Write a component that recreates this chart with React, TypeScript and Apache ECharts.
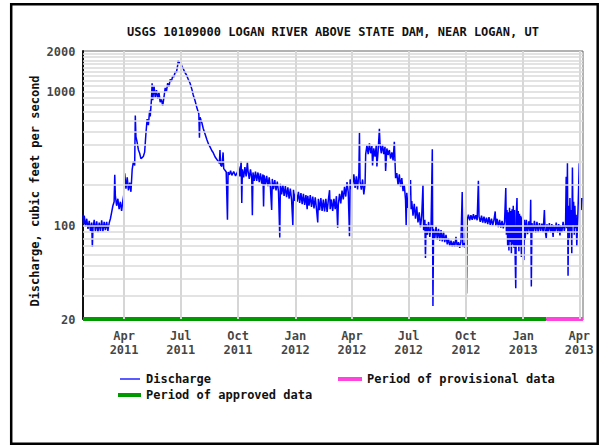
import React, { useEffect, useRef } from "react";
import * as echarts from "echarts";

const titleText = "USGS 10109000 LOGAN RIVER ABOVE STATE DAM, NEAR LOGAN, UT";
const yAxisTitle = "Discharge, cubic feet per second";
const xMin = "2011-01-25";
const xMax = "2013-04-07";
const yMin = 20;
const yMax = 2000;

const quarterTicks = [
  "2011-04-01", "2011-07-01", "2011-10-01", "2012-01-01", "2012-04-01",
  "2012-07-01", "2012-10-01", "2013-01-01", "2013-04-01",
];
const quarterLabels = [
  "Apr\n2011", "Jul\n2011", "Oct\n2011", "Jan\n2012", "Apr\n2012",
  "Jul\n2012", "Oct\n2012", "Jan\n2013", "Apr\n2013",
];
const yTickValues = [20, 100, 1000, 2000];
const yGridValues = [
  30, 40, 50, 60, 70, 80, 90, 100, 200, 300, 400, 500, 600, 700, 800, 900,
  1000, 1100, 1200, 1300, 1400, 1500, 1600, 1700, 1800, 1900,
];

const approvedPeriod: [string, number][] = [["2011-01-25", 20], ["2013-02-07", 20]];
const provisionalPeriod: [string, number][] = [["2013-02-07", 20], ["2013-04-07", 20]];

const discharge2011a: [string, number][] = [
  ["2011-01-25", 120], ["2011-01-26", 102], ["2011-01-27", 118], ["2011-01-29", 98], ["2011-01-31", 112],
  ["2011-02-02", 94], ["2011-02-04", 108], ["2011-02-06", 91], ["2011-02-08", 105], ["2011-02-09", 69],
  ["2011-02-10", 95], ["2011-02-12", 110], ["2011-02-14", 90], ["2011-02-16", 107], ["2011-02-18", 89],
  ["2011-02-20", 105], ["2011-02-22", 91], ["2011-02-24", 109], ["2011-02-26", 90], ["2011-02-28", 106],
  ["2011-03-02", 92], ["2011-03-04", 106], ["2011-03-06", 91], ["2011-03-08", 104], ["2011-03-10", 112],
  ["2011-03-12", 125], ["2011-03-14", 140], ["2011-03-16", 150], ["2011-03-17", 238], ["2011-03-18", 165],
  ["2011-03-20", 140], ["2011-03-22", 158], ["2011-03-24", 132], ["2011-03-26", 150], ["2011-03-28", 128],
  ["2011-03-30", 152], ["2011-04-01", 175], ["2011-04-02", 245], ["2011-04-04", 188], ["2011-04-06", 228],
  ["2011-04-08", 182], ["2011-04-10", 208], ["2011-04-12", 178], ["2011-04-14", 262], ["2011-04-16", 300],
  ["2011-04-18", 280], ["2011-04-19", 660], ["2011-04-20", 460], ["2011-04-22", 415], ["2011-04-24", 365],
  ["2011-04-26", 345], ["2011-04-28", 315], ["2011-04-30", 320], ["2011-05-02", 328], ["2011-05-04", 352],
];

const discharge2011b: [string, number][] = [
  ["2011-05-06", 480], ["2011-05-08", 620], ["2011-05-10", 560], ["2011-05-12", 720], ["2011-05-13", 650],
  ["2011-05-15", 880], ["2011-05-16", 1150], ["2011-05-17", 860], ["2011-05-19", 1100], ["2011-05-21", 900],
  ["2011-05-23", 1020], ["2011-05-25", 880], ["2011-05-27", 980], ["2011-05-29", 830], ["2011-05-31", 870],
  ["2011-06-02", 780], ["2011-06-04", 900], ["2011-06-06", 1060], ["2011-06-08", 1000], ["2011-06-10", 1150],
  ["2011-06-12", 1080], ["2011-06-14", 1230], ["2011-06-16", 1180], ["2011-06-18", 1300], ["2011-06-20", 1280],
  ["2011-06-22", 1400], ["2011-06-24", 1380], ["2011-06-26", 1560], ["2011-06-27", 1700], ["2011-06-29", 1610],
  ["2011-07-01", 1660], ["2011-07-03", 1520], ["2011-07-05", 1480], ["2011-07-07", 1400], ["2011-07-10", 1330],
  ["2011-07-13", 1230], ["2011-07-16", 1150], ["2011-07-19", 1030], ["2011-07-21", 940], ["2011-07-24", 850],
  ["2011-07-27", 750], ["2011-07-30", 680], ["2011-07-31", 450], ["2011-08-01", 640], ["2011-08-04", 580],
  ["2011-08-06", 530], ["2011-08-09", 480], ["2011-08-12", 435], ["2011-08-15", 400], ["2011-08-17", 385],
  ["2011-08-20", 360], ["2011-08-22", 350], ["2011-08-25", 325], ["2011-08-29", 305], ["2011-09-01", 290],
  ["2011-09-02", 365], ["2011-09-03", 282], ["2011-09-05", 275], ["2011-09-07", 350], ["2011-09-08", 265],
  ["2011-09-10", 258], ["2011-09-12", 250], ["2011-09-14", 110], ["2011-09-15", 250], ["2011-09-17", 238],
  ["2011-09-19", 256], ["2011-09-21", 236], ["2011-09-24", 252], ["2011-09-27", 234], ["2011-09-30", 250],
];

const discharge2011c: [string, number][] = [
  ["2011-10-02", 275], ["2011-10-04", 232], ["2011-10-06", 300], ["2011-10-07", 147], ["2011-10-08", 262],
  ["2011-10-10", 228], ["2011-10-12", 272], ["2011-10-14", 232], ["2011-10-16", 295], ["2011-10-17", 255],
  ["2011-10-19", 222], ["2011-10-21", 262], ["2011-10-23", 225], ["2011-10-24", 119], ["2011-10-25", 248],
  ["2011-10-27", 215], ["2011-10-29", 252], ["2011-10-31", 215], ["2011-11-02", 248], ["2011-11-04", 210],
  ["2011-11-06", 244], ["2011-11-08", 205], ["2011-11-10", 240], ["2011-11-11", 138], ["2011-11-12", 236],
  ["2011-11-14", 200], ["2011-11-16", 234], ["2011-11-18", 196], ["2011-11-20", 228], ["2011-11-22", 192],
  ["2011-11-24", 130], ["2011-11-25", 222], ["2011-11-27", 186], ["2011-11-29", 218], ["2011-12-01", 182],
  ["2011-12-03", 212], ["2011-12-05", 178], ["2011-12-07", 81], ["2011-12-08", 204], ["2011-12-10", 170],
  ["2011-12-12", 200], ["2011-12-14", 166], ["2011-12-16", 196], ["2011-12-18", 162], ["2011-12-20", 192],
  ["2011-12-22", 158], ["2011-12-24", 188], ["2011-12-26", 155], ["2011-12-28", 100], ["2011-12-29", 184],
  ["2011-12-31", 152],
];

const discharge2012a: [string, number][] = [
  ["2012-01-02", 180], ["2012-01-04", 150], ["2012-01-06", 178], ["2012-01-08", 147], ["2012-01-10", 174],
  ["2012-01-12", 144], ["2012-01-14", 172], ["2012-01-16", 142], ["2012-01-18", 168], ["2012-01-20", 132],
  ["2012-01-21", 166], ["2012-01-23", 140], ["2012-01-25", 168], ["2012-01-27", 137], ["2012-01-29", 164],
  ["2012-01-31", 134], ["2012-02-02", 162], ["2012-02-04", 132], ["2012-02-06", 105], ["2012-02-07", 158],
  ["2012-02-09", 130], ["2012-02-11", 160], ["2012-02-13", 128], ["2012-02-15", 156], ["2012-02-17", 127],
  ["2012-02-19", 158], ["2012-02-21", 126], ["2012-02-23", 154], ["2012-02-25", 183], ["2012-02-26", 132],
  ["2012-02-28", 156], ["2012-03-01", 128], ["2012-03-03", 158], ["2012-03-05", 132], ["2012-03-07", 165],
  ["2012-03-09", 96], ["2012-03-10", 142], ["2012-03-12", 172], ["2012-03-14", 146], ["2012-03-16", 182],
  ["2012-03-18", 156], ["2012-03-20", 194], ["2012-03-22", 164], ["2012-03-24", 210], ["2012-03-26", 176],
  ["2012-03-28", 83], ["2012-03-29", 220], ["2012-03-31", 186], ["2012-04-01", 275], ["2012-04-02", 200],
  ["2012-04-04", 240], ["2012-04-06", 190], ["2012-04-08", 232], ["2012-04-10", 185], ["2012-04-12", 245],
  ["2012-04-13", 490], ["2012-04-14", 210], ["2012-04-16", 185], ["2012-04-18", 220], ["2012-04-20", 170],
  ["2012-04-22", 205], ["2012-04-23", 340], ["2012-04-25", 395], ["2012-04-27", 340], ["2012-04-29", 410],
  ["2012-05-01", 345], ["2012-05-03", 390], ["2012-05-04", 280], ["2012-05-06", 375], ["2012-05-08", 325],
  ["2012-05-10", 395], ["2012-05-11", 275], ["2012-05-13", 360], ["2012-05-15", 525], ["2012-05-16", 405],
  ["2012-05-18", 345], ["2012-05-20", 400], ["2012-05-22", 340], ["2012-05-24", 385], ["2012-05-25", 255],
  ["2012-05-27", 375], ["2012-05-29", 335], ["2012-05-31", 365], ["2012-06-02", 315], ["2012-06-04", 350],
  ["2012-06-06", 305], ["2012-06-08", 420], ["2012-06-10", 225], ["2012-06-12", 245], ["2012-06-14", 200],
  ["2012-06-16", 240], ["2012-06-18", 195], ["2012-06-20", 225], ["2012-06-22", 180], ["2012-06-24", 200],
  ["2012-06-26", 155], ["2012-06-27", 100], ["2012-06-28", 175], ["2012-06-30", 135], ["2012-07-02", 168],
  ["2012-07-04", 218], ["2012-07-05", 132],
];

const discharge2012b: [string, number][] = [
  ["2012-07-06", 152], ["2012-07-08", 118], ["2012-07-10", 145], ["2012-07-12", 112], ["2012-07-14", 138],
  ["2012-07-16", 105], ["2012-07-18", 125], ["2012-07-20", 97], ["2012-07-22", 118], ["2012-07-24", 200],
  ["2012-07-25", 92], ["2012-07-27", 110], ["2012-07-28", 57], ["2012-07-29", 102], ["2012-07-31", 85],
  ["2012-08-02", 106], ["2012-08-04", 82], ["2012-08-06", 100], ["2012-08-08", 370], ["2012-08-09", 25],
  ["2012-08-10", 94], ["2012-08-12", 80], ["2012-08-14", 98], ["2012-08-16", 78], ["2012-08-18", 94],
  ["2012-08-20", 77], ["2012-08-22", 92], ["2012-08-24", 76], ["2012-08-26", 90], ["2012-08-28", 75],
  ["2012-08-30", 85], ["2012-09-01", 72], ["2012-09-03", 80], ["2012-09-05", 70], ["2012-09-07", 77],
  ["2012-09-09", 69], ["2012-09-11", 76], ["2012-09-13", 69], ["2012-09-15", 82], ["2012-09-17", 69],
  ["2012-09-19", 75], ["2012-09-21", 68], ["2012-09-23", 76], ["2012-09-25", 177], ["2012-09-26", 69],
  ["2012-09-28", 74], ["2012-09-30", 68], ["2012-10-01", 200], ["2012-10-02", 31], ["2012-10-03", 110],
  ["2012-10-05", 120], ["2012-10-07", 109], ["2012-10-09", 119], ["2012-10-11", 110], ["2012-10-13", 121],
  ["2012-10-15", 111], ["2012-10-17", 119], ["2012-10-19", 109], ["2012-10-21", 215], ["2012-10-22", 116],
  ["2012-10-24", 106], ["2012-10-26", 118], ["2012-10-28", 105], ["2012-10-30", 116], ["2012-11-01", 104],
  ["2012-11-03", 114], ["2012-11-05", 102], ["2012-11-07", 115], ["2012-11-09", 101], ["2012-11-11", 112],
  ["2012-11-13", 100], ["2012-11-15", 110], ["2012-11-17", 127], ["2012-11-18", 99], ["2012-11-20", 112],
  ["2012-11-22", 97], ["2012-11-24", 110], ["2012-11-26", 96], ["2012-11-28", 108], ["2012-11-30", 95],
  ["2012-12-02", 106], ["2012-12-04", 190], ["2012-12-05", 85], ["2012-12-06", 130], ["2012-12-07", 70],
  ["2012-12-08", 125], ["2012-12-09", 65], ["2012-12-10", 135], ["2012-12-11", 75], ["2012-12-12", 128],
  ["2012-12-13", 62], ["2012-12-14", 132], ["2012-12-15", 72], ["2012-12-16", 140], ["2012-12-17", 68],
  ["2012-12-18", 130], ["2012-12-19", 60], ["2012-12-20", 34], ["2012-12-21", 125], ["2012-12-22", 160],
  ["2012-12-23", 70], ["2012-12-24", 128], ["2012-12-25", 64], ["2012-12-26", 122], ["2012-12-27", 70],
  ["2012-12-28", 118], ["2012-12-29", 58], ["2012-12-30", 115], ["2012-12-31", 75],
];

const discharge2013: [string, number][] = [
  ["2013-01-01", 112], ["2013-01-02", 55], ["2013-01-03", 110], ["2013-01-04", 78], ["2013-01-06", 110],
  ["2013-01-08", 86], ["2013-01-10", 107], ["2013-01-12", 88], ["2013-01-13", 155], ["2013-01-14", 35],
  ["2013-01-15", 104], ["2013-01-17", 89], ["2013-01-19", 108], ["2013-01-21", 88], ["2013-01-23", 106],
  ["2013-01-25", 89], ["2013-01-27", 104], ["2013-01-29", 91], ["2013-01-31", 103], ["2013-02-02", 89],
  ["2013-02-04", 130], ["2013-02-05", 93], ["2013-02-07", 80], ["2013-02-08", 102], ["2013-02-10", 89],
  ["2013-02-12", 104], ["2013-02-14", 88], ["2013-02-16", 102], ["2013-02-18", 82], ["2013-02-19", 100],
  ["2013-02-21", 89], ["2013-02-23", 105], ["2013-02-25", 88], ["2013-02-27", 102], ["2013-03-01", 84],
  ["2013-03-02", 100], ["2013-03-04", 89], ["2013-03-06", 106], ["2013-03-08", 91], ["2013-03-10", 102],
  ["2013-03-11", 230], ["2013-03-12", 95], ["2013-03-13", 290], ["2013-03-14", 42], ["2013-03-15", 140],
  ["2013-03-16", 80], ["2013-03-17", 160], ["2013-03-18", 90], ["2013-03-19", 130], ["2013-03-20", 62],
  ["2013-03-21", 270], ["2013-03-22", 100], ["2013-03-23", 150], ["2013-03-24", 85], ["2013-03-25", 140],
  ["2013-03-26", 95], ["2013-03-27", 120], ["2013-03-28", 70], ["2013-03-30", 130], ["2013-04-01", 290],
  ["2013-04-02", 110], ["2013-04-03", 150], ["2013-04-04", 130], ["2013-04-05", 160],
];

const discharge = [
  ...discharge2011a, ...discharge2011b, ...discharge2011c,
  ...discharge2012a, ...discharge2012b, ...discharge2013,
];

const FONT = "'DejaVu Sans Mono', 'Liberation Mono', monospace";
const BLUE = "#0000ff";
const GREEN = "#009900";
const PINK = "#ff44dd";

export default function App() {
  const ref = useRef<HTMLDivElement>(null);
  useEffect(() => {
    document.body.style.margin = "0";
    if (!ref.current) return;
    const chart = echarts.init(ref.current, undefined, { renderer: "svg" });
    const textStyle = { fontFamily: FONT, fontWeight: "bold" as const, fontSize: 12, fill: "#111" };
    chart.setOption({
      animation: false,
      backgroundColor: "#fff",
      grid: { left: 83, top: 51, width: 500, height: 268, show: true, borderColor: "#666", borderWidth: 1 },
      xAxis: {
        type: "time", min: xMin, max: xMax,
        axisLabel: { show: false }, axisTick: { show: false }, splitLine: { show: false },
        axisLine: { show: true, lineStyle: { color: "#222", width: 1 } },
      },
      yAxis: {
        type: "log", logBase: 10, min: yMin, max: yMax,
        axisLabel: { show: false }, axisTick: { show: false }, splitLine: { show: false },
        minorTick: { show: false }, minorSplitLine: { show: false },
        axisLine: { show: true, lineStyle: { color: "#111", width: 2 } },
      },
      graphic: [
        { type: "rect", shape: { x: 11.2, y: 4.3, width: 586.5, height: 439.5 }, style: { fill: "none", stroke: "#000", lineWidth: 2.5 }, z: 100 },
        { type: "text", x: 333, y: 32, style: { ...textStyle, text: titleText, align: "center", verticalAlign: "middle" } },
        { type: "text", x: 35, y: 191, rotation: Math.PI / 2, style: { ...textStyle, text: yAxisTitle, align: "center", verticalAlign: "middle" } },
        { type: "line", shape: { x1: 120, y1: 379, x2: 140, y2: 379 }, style: { stroke: BLUE, lineWidth: 1.3 } },
        { type: "text", x: 146, y: 379, style: { ...textStyle, text: "Discharge", verticalAlign: "middle" } },
        { type: "line", shape: { x1: 118, y1: 395, x2: 141, y2: 395 }, style: { stroke: GREEN, lineWidth: 4 } },
        { type: "text", x: 146, y: 395, style: { ...textStyle, text: "Period of approved data", verticalAlign: "middle" } },
        { type: "line", shape: { x1: 338, y1: 379, x2: 362, y2: 379 }, style: { stroke: PINK, lineWidth: 4 } },
        { type: "text", x: 367, y: 379, style: { ...textStyle, text: "Period of provisional data", verticalAlign: "middle" } },
      ],
      series: [
        {
          name: "xTicks",
          type: "scatter",
          z: 1,
          clip: false,
          silent: true,
          symbolSize: 1,
          itemStyle: { color: "rgba(0,0,0,0)" },
          data: quarterTicks.map((d) => [d, yMin]),
          label: {
            show: true, position: "bottom", distance: 9,
            formatter: (p: any) => quarterLabels[p.dataIndex],
            fontFamily: FONT, fontWeight: "bold", fontSize: 12, color: "#111", lineHeight: 14, align: "center",
          },
          markLine: {
            silent: true,
            symbol: ["none", "none"],
            label: { show: false },
            data: [
              ...quarterTicks.map((d) => ({ xAxis: d, lineStyle: { color: "#d6d6d6", width: 2, type: "solid" } })),
              ...yGridValues.map((v) => ({ yAxis: v, lineStyle: { color: "#dadada", width: 1.5, type: "solid" } })),
            ],
          },
        },
        {
          name: "yTicks",
          type: "scatter",
          z: 1,
          clip: false,
          silent: true,
          symbolSize: 1,
          itemStyle: { color: "rgba(0,0,0,0)" },
          data: yTickValues.map((v) => [xMin, v]),
          label: {
            show: true, position: "left", distance: 7, offset: [0, 1],
            formatter: (p: any) => String(yTickValues[p.dataIndex]),
            fontFamily: FONT, fontWeight: "bold", fontSize: 12, color: "#111",
          },
        },
        {
          name: "Discharge",
          type: "line",
          z: 3,
          showSymbol: false,
          symbol: "none",
          lineStyle: { color: BLUE, width: 1.5 },
          data: discharge,
        },
        {
          name: "Period of approved data",
          type: "line", z: 4, clip: false, showSymbol: false, symbol: "none",
          lineStyle: { color: GREEN, width: 4 },
          data: approvedPeriod,
        },
        {
          name: "Period of provisional data",
          type: "line", z: 4, clip: false, showSymbol: false, symbol: "none",
          lineStyle: { color: PINK, width: 4 },
          data: provisionalPeriod,
        },
      ],
    });
    return () => chart.dispose();
  }, []);
  return <div ref={ref} style={{ width: 600, height: 445 }} />;
}
